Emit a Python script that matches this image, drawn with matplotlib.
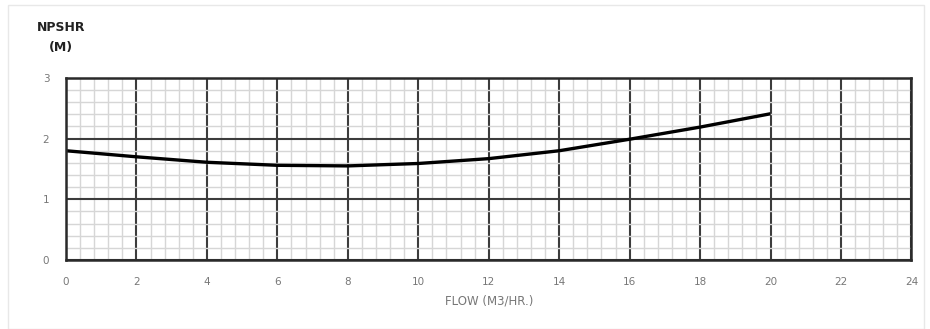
import matplotlib
matplotlib.use('Agg')
import matplotlib.pyplot as plt
from matplotlib.ticker import MultipleLocator
from matplotlib.patches import Rectangle

# NPSHR curve
flow = [0, 2, 4, 6, 8, 10, 12, 14, 16, 18, 20]
npshr = [1.80, 1.70, 1.61, 1.56, 1.55, 1.59, 1.67, 1.80, 1.99, 2.19, 2.41]

x_ticks = [0, 2, 4, 6, 8, 10, 12, 14, 16, 18, 20, 22, 24]
y_ticks = [0, 1, 2, 3]

fig = plt.figure(figsize=(9.3, 3.29), dpi=100)
fig.patches.append(Rectangle((0.009, 0.0), 0.985, 0.985, transform=fig.transFigure,
                             fill=False, edgecolor='#e8e8e8', linewidth=1.0))

ax = fig.add_axes([0.071, 0.21, 0.909, 0.553])
ax.set_xlim(0, 24)
ax.set_ylim(0, 3)
ax.set_xticks(x_ticks)
ax.set_yticks(y_ticks)
ax.xaxis.set_minor_locator(MultipleLocator(0.4))
ax.yaxis.set_minor_locator(MultipleLocator(0.2))

ax.grid(which='minor', color='#d6d6d6', linewidth=1.0)
ax.grid(which='major', color='#3c3c3c', linewidth=1.5)
ax.set_axisbelow(True)
for s in ax.spines.values():
    s.set_color('#2a2a2a')
    s.set_linewidth(1.8)

ax.tick_params(which='both', length=0)
ax.tick_params(axis='x', pad=12, labelsize=7.5, labelcolor='#777777')
ax.tick_params(axis='y', pad=12, labelsize=7.5, labelcolor='#777777')

ax.plot(flow, npshr, color='black', linewidth=2.4, solid_capstyle='butt')

ax.set_xlabel('FLOW (M3/HR.)', fontsize=8.5, color='#777777', labelpad=6)
fig.text(0.066, 0.915, 'NPSHR', ha='center', va='center', fontsize=9,
         color='#222222', fontweight='semibold')
fig.text(0.066, 0.855, '(M)', ha='center', va='center', fontsize=9,
         color='#222222', fontweight='semibold')

fig.savefig('out.png', dpi=100, facecolor='white')
